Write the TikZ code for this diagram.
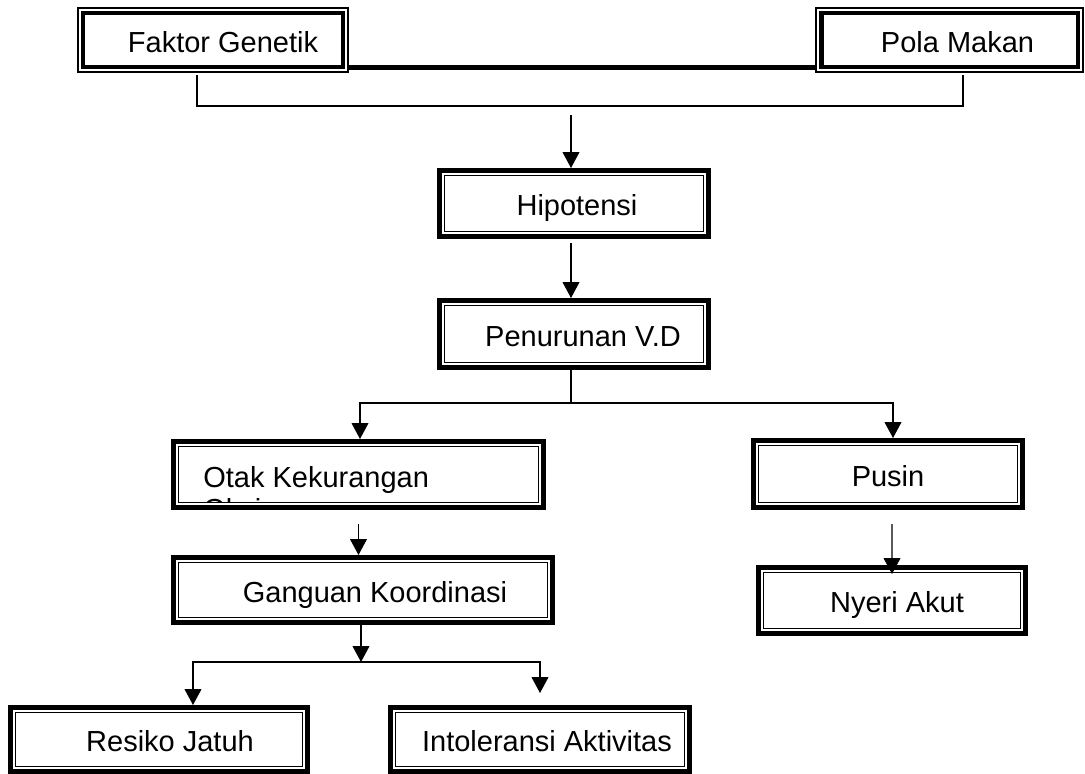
\documentclass[tikz,border=0pt]{standalone}
\usepackage{fontspec}
\setmainfont{Liberation Sans}
\usetikzlibrary{arrows.meta}

\tikzset{
  frame/.style={draw, line width=2.85pt, fill=white, inner sep=0pt,
    font=\fontsize{16.5}{19}\selectfont, text height=14pt, text depth=0pt,
    path picture={\draw[line width=0.6pt]
      ([shift={(3pt,3pt)}]path picture bounding box.south west) rectangle
      ([shift={(-3pt,-3pt)}]path picture bounding box.north east);}},
  topframe/.style={draw, line width=1pt, fill=white, inner sep=0pt,
    font=\fontsize{16.5}{19}\selectfont, text height=14pt, text depth=0pt,
    path picture={\draw[line width=2.3pt]
      ([shift={(3.1pt,3.1pt)}]path picture bounding box.south west) rectangle
      ([shift={(-3.1pt,-3.1pt)}]path picture bounding box.north east);}},
  indent/.style={execute at begin node={\hspace*{#1}}},
  lbl/.style={inner sep=0pt, font=\fontsize{16.5}{19}\selectfont},
  link/.style={line width=0.7pt},
  arr/.style={link, -{Triangle[width=9.5pt,length=9pt]}}
}

\begin{document}
\begin{tikzpicture}[x=0.02cm, y=-0.02cm]
  \useasboundingbox (0,0) rectangle (1085,774);

  % causes
  \node[topframe, minimum width=5.40cm, minimum height=1.28cm, indent=0.4cm] (gen) at (213,40) {Faktor Genetik};
  \node[topframe, minimum width=5.34cm, minimum height=1.28cm, indent=0.32cm] (makan) at (949.5,40) {Pola Makan};

  % chain
  \node[frame, minimum width=5.38cm, minimum height=1.32cm, indent=0.12cm] (hipo) at (574,203.5) {Hipotensi};
  \node[frame, minimum width=5.38cm, minimum height=1.34cm, indent=0.36cm] (vd) at (574,334) {Penurunan V.D};
  \node[frame, minimum width=7.40cm, minimum height=1.32cm] (otak) at (358.5,474.5) {};
  \node[frame, minimum width=5.38cm, minimum height=1.34cm] (pusin) at (888,474) {Pusin};
  \node[frame, minimum width=7.58cm, minimum height=1.30cm, indent=0.48cm] (koor) at (363,590) {Ganguan Koordinasi};
  \node[frame, minimum width=5.36cm, minimum height=1.32cm, indent=0.2cm] (nyeri) at (892,600.5) {Nyeri Akut};
  \node[frame, minimum width=5.94cm, minimum height=1.28cm, indent=0.44cm] (jatuh) at (159,739.5) {Resiko Jatuh};
  \node[frame, minimum width=5.98cm, minimum height=1.28cm, indent=0.28cm] (intol) at (540,739.5) {Intoleransi Aktivitas};

  % text of the otak box, cut at its inner line
  \begin{scope}
    \clip ([shift={(4.4pt,4.4pt)}]otak.south west) rectangle ([shift={(-4.4pt,-4.4pt)}]otak.north east);
    \node[lbl, anchor=base west] (otak1) at (203,487) {Otak Kekurangan};
    \node[lbl, anchor=base west] (otak2) at (203,519) {Oksigen};
  \end{scope}

  % join of the causes
  \draw[line width=0.6pt] ([yshift=0.138cm]gen.south east) -- ([yshift=0.138cm]makan.south west);
  \draw[line width=1.7pt] ([yshift=0.078cm]gen.south east) -- ([yshift=0.078cm]makan.south west);
  \coordinate (bl) at (197,75);
  \coordinate (br) at (963,75);
  \coordinate (bm) at (571,106);
  \draw[link] (bl) |- (bm) -| (br);
  \draw[arr] ([yshift=-0.18cm]bm) -- (bm |- hipo.north);
  \draw[arr] ([yshift=-0.08cm]hipo.south -| bm) -- (vd.north -| bm);

  % branches
  \coordinate (vdj) at (571,403);
  \draw[link] (vd.south -| vdj) -- (vdj);
  \draw[arr] (vdj) -| ([xshift=0.03cm]otak.north);
  \draw[arr] (vdj) -| ([xshift=0.1cm]pusin.north);
  \draw[arr] ([yshift=-0.28cm]otak.south) -- (otak.south |- koor.north);
  \draw[arr] ([xshift=0.08cm,yshift=-0.28cm]pusin.south) -- ([yshift=-0.18cm]nyeri.north);
  \coordinate (kj) at (361,662);
  \draw[arr] (koor.south -| kj) -- (kj);
  \draw[arr] (kj) -| ([xshift=0.68cm]jatuh.north);
  \draw[arr] (kj) -| ([yshift=0.24cm]intol.north);
\end{tikzpicture}
\end{document}
